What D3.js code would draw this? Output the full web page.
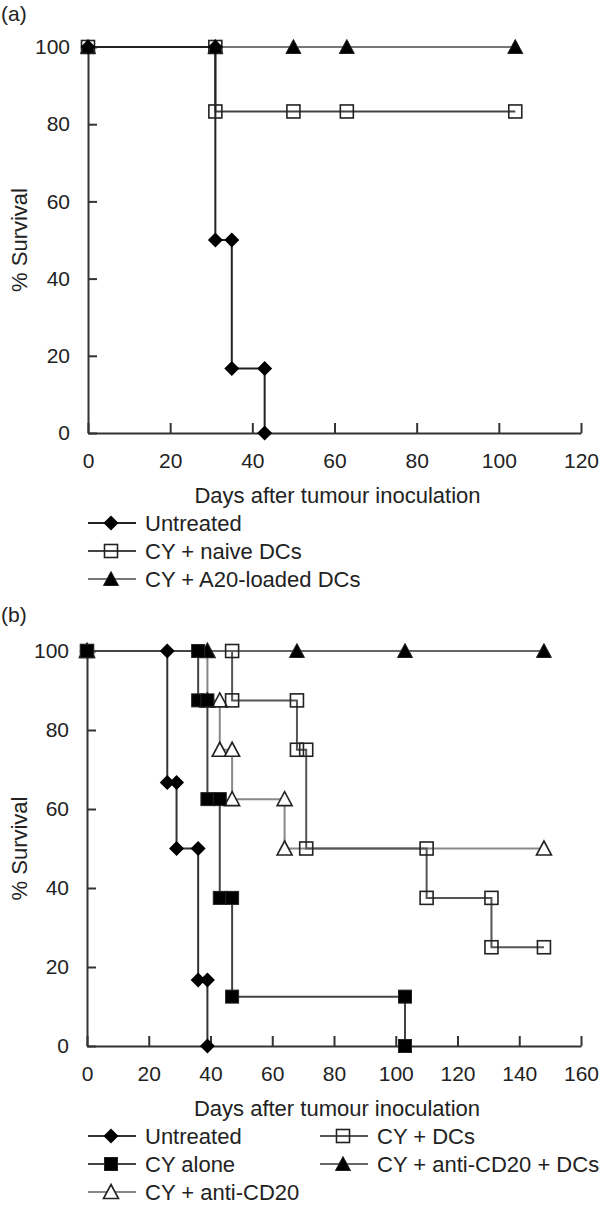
<!DOCTYPE html>
<html>
<head>
<meta charset="utf-8">
<script src="https://cdn.jsdelivr.net/npm/d3@7"></script>
<style>
  body { margin: 0; background: #fff; }
  text { font-family: "Liberation Sans", Arial, Helvetica, sans-serif; fill: #222; }
</style>
</head>
<body>
<svg id="chart" width="600" height="1208"></svg>
<script>
// ---- panel (a) data: [day, % survival]
const untreatedA = [[0,100],[31,100],[31,50],[35,50],[35,16.7],[43,16.7],[43,0]];
const naiveDCsA = [[0,100],[31,100],[31,83.3],[50,83.3],[63,83.3],[104,83.3]];
const loadedDCsA = [[0,100],[31,100],[50,100],[63,100],[104,100]];
const xTicksA = [0,20,40,60,80,100,120];
const legendA = ["Untreated", "CY + naive DCs", "CY + A20-loaded DCs"];

// ---- panel (b) data
const untreatedB = [[0,100],[26,100],[26,66.7],[29,66.7],[29,50],[36,50],[36,16.7],[39,16.7],[39,0]];
const cyAloneB = [[0,100],[36,100],[36,87.5],[39,87.5],[39,62.5],[43,62.5],[43,37.5],[47,37.5],[47,12.5],[103,12.5],[103,0]];
const antiCD20B = [[0,100],[39,100],[39,87.5],[43,87.5],[43,75],[47,75],[47,62.5],[64,62.5],[64,50],[148,50]];
const dcsB = [[0,100],[47,100],[47,87.5],[68,87.5],[68,75],[71,75],[71,50],[110,50],[110,37.5],[131,37.5],[131,25],[148,25]];
const antiCD20DCsB = [[0,100],[39,100],[68,100],[103,100],[148,100]];
const xTicksB = [0,20,40,60,80,100,120,140,160];
const legendB = ["Untreated", "CY alone", "CY + anti-CD20", "CY + DCs", "CY + anti-CD20 + DCs"];

const yTicks = [0,20,40,60,80,100];

const svg = d3.select("#chart");

// marker shapes
function drawMarker(g, shape, x, y) {
  if (shape === "diamond") {
    g.append("path").attr("transform", `translate(${x},${y})`)
      .attr("d", "M0,-7.5L7.5,0L0,7.5L-7.5,0Z").attr("fill", "#000");
  } else if (shape === "square" || shape === "openSquare") {
    const open = shape === "openSquare";
    g.append("rect").attr("x", x - 6.5).attr("y", y - 6.5)
      .attr("width", 13).attr("height", 13)
      .attr("fill", open ? "none" : "#000")
      .attr("stroke", "#222").attr("stroke-width", open ? 1.6 : 1);
  } else {
    const open = shape === "openTriangle";
    g.append("path").attr("transform", `translate(${x},${y})`)
      .attr("d", "M0,-7.5L7.5,6.5L-7.5,6.5Z")
      .attr("fill", open ? "#fff" : "#000")
      .attr("stroke", "#222").attr("stroke-width", open ? 1.6 : 1);
  }
}

function drawPanel(p) {
  const x = d3.scaleLinear().domain([0, p.xMax]).range([p.left, p.right]);
  const y = d3.scaleLinear().domain([0, 100]).range([p.bottom, p.top]);
  const g = svg.append("g");

  g.append("text").attr("x", 1).attr("y", p.labelY).attr("font-size", 21).text(p.label);

  // axes, ticks pointing inwards
  const xAxis = g.append("g").attr("transform", `translate(0,${p.bottom})`)
    .call(d3.axisBottom(x).tickValues(p.xTicks).tickSizeInner(-10).tickSizeOuter(0).tickPadding(20));
  const yAxis = g.append("g").attr("transform", `translate(${p.left},0)`)
    .call(d3.axisLeft(y).tickValues(yTicks).tickSizeInner(-9).tickSizeOuter(0).tickPadding(18));
  [xAxis, yAxis].forEach(a => {
    a.select(".domain").attr("stroke", "#333").attr("stroke-width", 2);
    a.selectAll(".tick line").attr("stroke", "#333").attr("stroke-width", 2);
    a.selectAll(".tick text").attr("font-size", 21).attr("fill", "#222");
  });

  g.append("text").attr("x", (p.left + p.right) / 2 + 3).attr("y", p.bottom + 62).attr("dy", "0.36em")
    .attr("text-anchor", "middle").attr("font-size", 22).text("Days after tumour inoculation");
  g.append("text").attr("transform", `translate(27,${(p.top + p.bottom) / 2}) rotate(-90)`)
    .attr("text-anchor", "middle").attr("font-size", 22).text("% Survival");

  // curves then markers
  const line = d3.line().x(d => x(d[0])).y(d => y(d[1]));
  p.series.forEach(s => {
    g.append("path").datum(s.data).attr("d", line)
      .attr("fill", "none").attr("stroke", s.color).attr("stroke-width", 2);
  });
  p.series.forEach(s => {
    s.data.forEach(d => drawMarker(g, s.shape, x(d[0]), y(d[1])));
  });

  // legend
  const lg = g.append("g");
  p.series.forEach(s => {
    const lx = s.col === 0 ? 88 : 320;
    const ly = p.bottom + 90 + s.row * 28;
    lg.append("line").attr("x1", lx).attr("x2", lx + 48).attr("y1", ly).attr("y2", ly)
      .attr("stroke", s.color).attr("stroke-width", 2);
    drawMarker(lg, s.shape, lx + 23, ly);
    lg.append("text").attr("x", lx + 57).attr("y", ly).attr("dy", "0.36em")
      .attr("font-size", 22).text(s.name);
  });
}

drawPanel({
  label: "(a)", labelY: 21, xMax: 120, xTicks: xTicksA,
  left: 88, right: 581, top: 47, bottom: 433,
  series: [
    { name: legendA[2], data: loadedDCsA, shape: "triangle", color: "#777", col: 0, row: 2 },
    { name: legendA[1], data: naiveDCsA, shape: "openSquare", color: "#444", col: 0, row: 1 },
    { name: legendA[0], data: untreatedA, shape: "diamond", color: "#222", col: 0, row: 0 }
  ]
});

drawPanel({
  label: "(b)", labelY: 622, xMax: 160, xTicks: xTicksB,
  left: 87, right: 581, top: 651, bottom: 1046,
  series: [
    { name: legendB[2], data: antiCD20B, shape: "openTriangle", color: "#888", col: 0, row: 2 },
    { name: legendB[3], data: dcsB, shape: "openSquare", color: "#555", col: 1, row: 0 },
    { name: legendB[4], data: antiCD20DCsB, shape: "triangle", color: "#666", col: 1, row: 1 },
    { name: legendB[0], data: untreatedB, shape: "diamond", color: "#333", col: 0, row: 0 },
    { name: legendB[1], data: cyAloneB, shape: "square", color: "#444", col: 0, row: 1 }
  ]
});
</script>
</body>
</html>
